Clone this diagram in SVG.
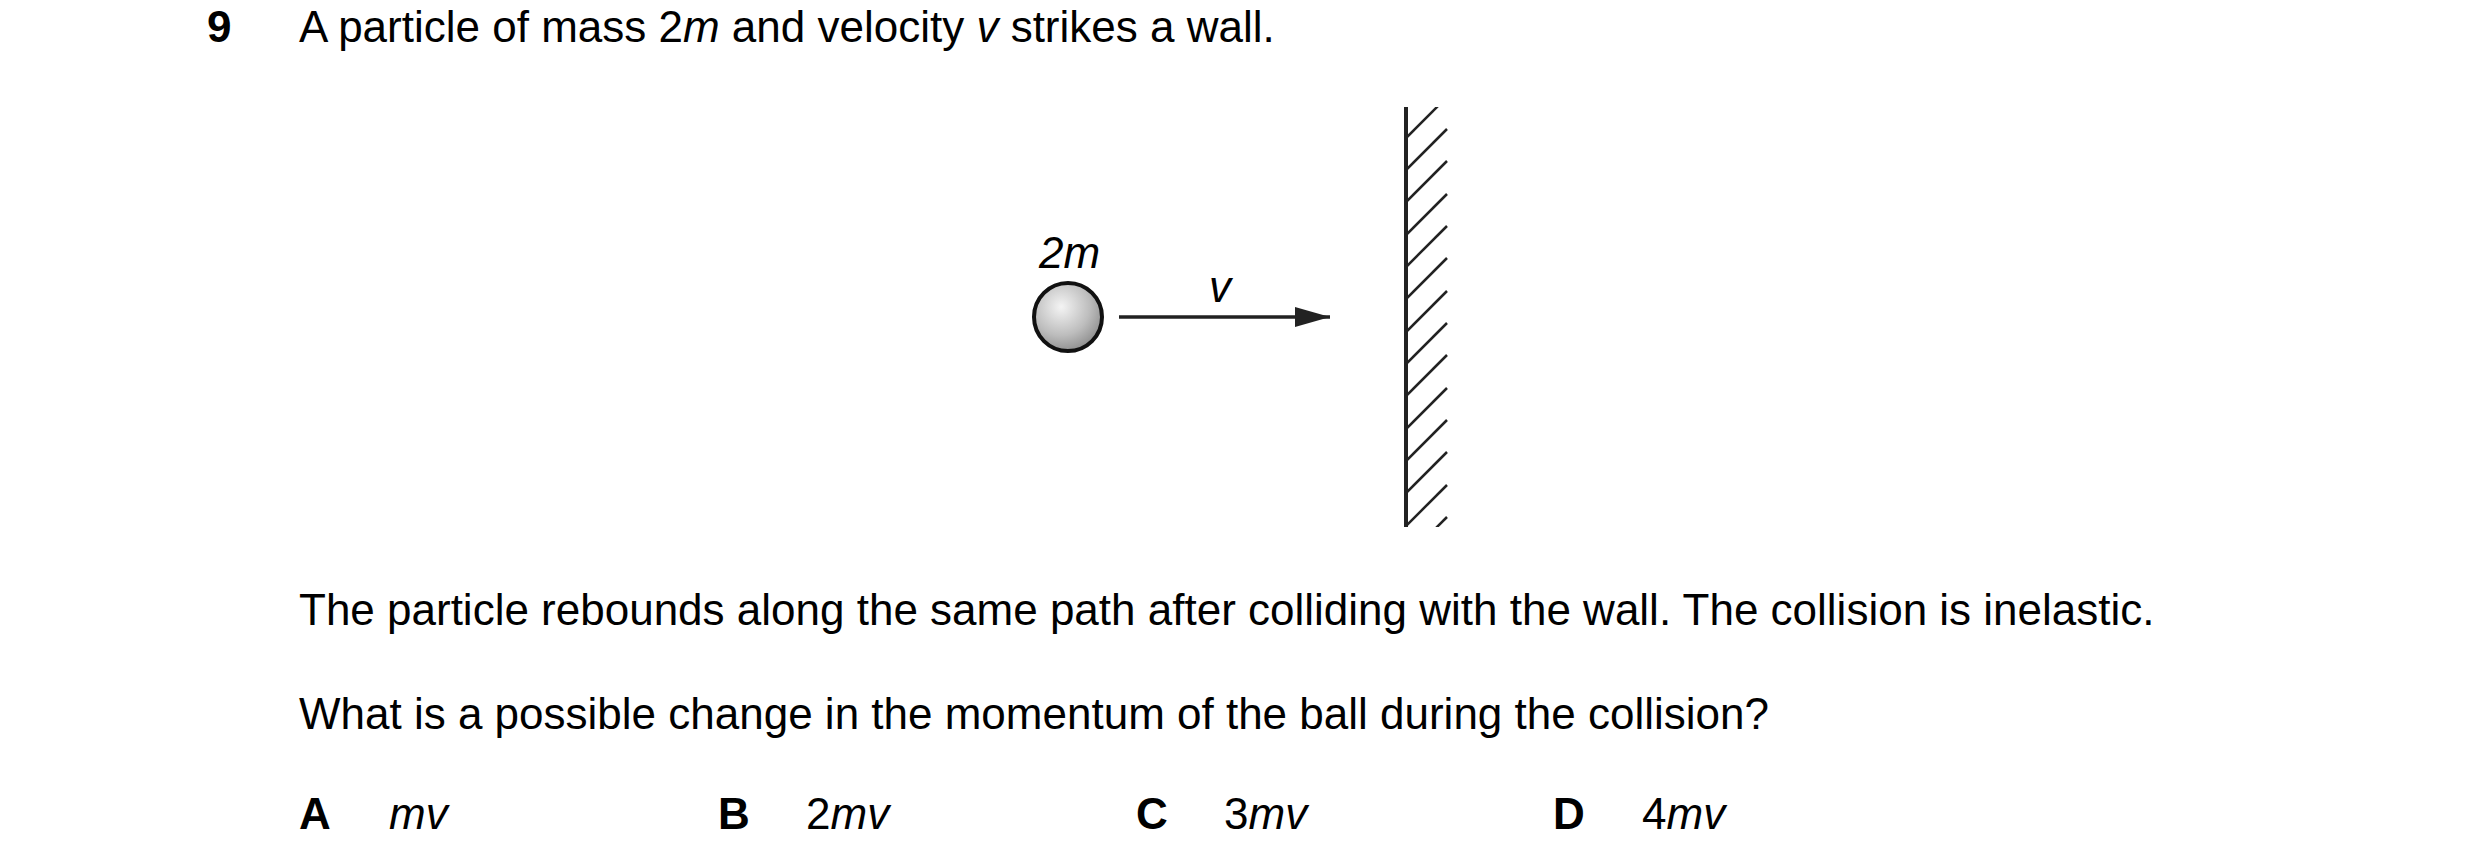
<svg xmlns="http://www.w3.org/2000/svg" width="2480" height="868" viewBox="0 0 2480 868">
<style>
text{font-family:"Liberation Sans",Arial,sans-serif;font-size:44px;fill:#000}
.b{font-weight:bold}
.i{font-style:italic}
.h{stroke:#222;stroke-width:2.5}
</style>
<defs>
<radialGradient id="g" cx="0.4" cy="0.35" r="0.7">
<stop offset="0" stop-color="#f4f4f4"/><stop offset="0.6" stop-color="#bdbdbd"/><stop offset="1" stop-color="#8a8a8a"/>
</radialGradient>
<marker id="ah" markerWidth="12" markerHeight="8" refX="12" refY="4" orient="auto" markerUnits="userSpaceOnUse" viewBox="0 0 12 8"><path d="M0,0 L12,4 L0,8 z" fill="#222"/></marker>
<clipPath id="wc"><rect x="1405" y="107" width="44" height="420"/></clipPath>
</defs>
<text x="207" y="42" class="b">9</text>
<text x="299" y="42">A particle of mass 2<tspan class="i">m</tspan> and velocity <tspan class="i">v</tspan> strikes a wall.</text>
<g id="ball">
<circle cx="1068" cy="317" r="34" fill="url(#g)" stroke="#111" stroke-width="4"/>
<text x="1039" y="268" class="i">2<tspan>m</tspan></text>
</g>
<g id="connectors">
<line x1="1119" y1="317" x2="1330" y2="317" stroke="#222" stroke-width="3.5"/>
<path d="M1295,307 L1330,317 L1295,327 z" fill="#222"/>
<text x="1220" y="302" class="i" text-anchor="middle">v</text>
</g>
<g id="wall">
<line x1="1406" y1="107" x2="1406" y2="527" stroke="#222" stroke-width="4"/>
<g clip-path="url(#wc)" class="h">
<line x1="1405" y1="139" x2="1447" y2="97"/>
<line x1="1405" y1="171" x2="1447" y2="129"/>
<line x1="1405" y1="203" x2="1447" y2="161"/>
<line x1="1405" y1="236" x2="1447" y2="194"/>
<line x1="1405" y1="268" x2="1447" y2="226"/>
<line x1="1405" y1="300" x2="1447" y2="258"/>
<line x1="1405" y1="333" x2="1447" y2="291"/>
<line x1="1405" y1="365" x2="1447" y2="323"/>
<line x1="1405" y1="397" x2="1447" y2="355"/>
<line x1="1405" y1="430" x2="1447" y2="388"/>
<line x1="1405" y1="462" x2="1447" y2="420"/>
<line x1="1405" y1="494" x2="1447" y2="452"/>
<line x1="1405" y1="527" x2="1447" y2="485"/>
<line x1="1405" y1="559" x2="1447" y2="517"/>
</g>
</g>
<text x="299" y="625">The particle rebounds along the same path after colliding with the wall. The collision is inelastic.</text>
<text x="299" y="729">What is a possible change in the momentum of the ball during the collision?</text>
<text x="299" y="829" class="b">A</text><text x="389" y="829" class="i">mv</text>
<text x="718" y="829" class="b">B</text><text x="806" y="829">2<tspan class="i">mv</tspan></text>
<text x="1136" y="829" class="b">C</text><text x="1224" y="829">3<tspan class="i">mv</tspan></text>
<text x="1553" y="829" class="b">D</text><text x="1642" y="829">4<tspan class="i">mv</tspan></text>
</svg>
